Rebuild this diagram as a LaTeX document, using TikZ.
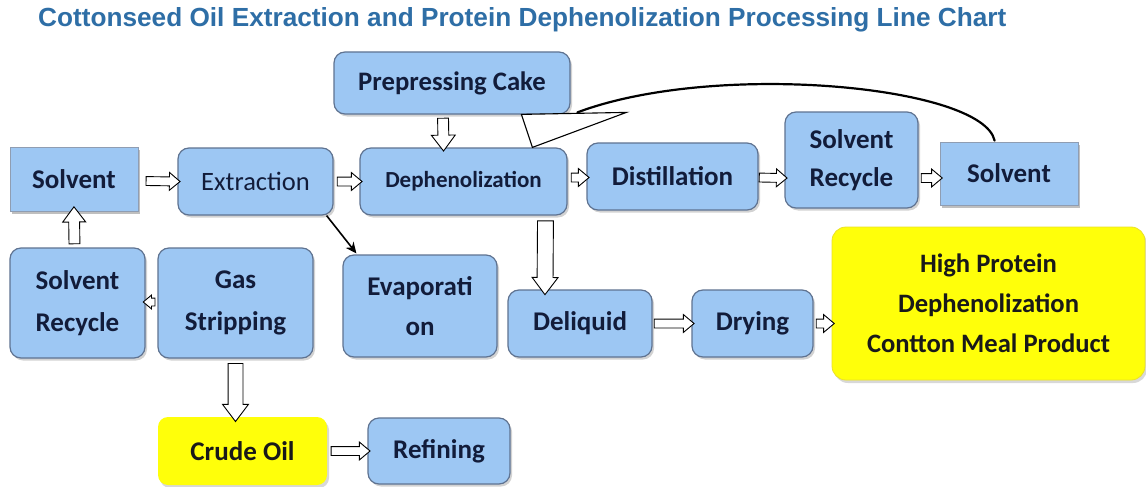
\documentclass[tikz,border=0pt]{standalone}
\usepackage{fontspec}
\setmainfont{Carlito}
\newfontfamily\titlefont{Liberation Sans}
\usetikzlibrary{shapes.arrows,shadows,calc,arrows.meta}
\definecolor{boxblue}{RGB}{157,199,243}
\definecolor{boxedge}{RGB}{95,115,145}
\definecolor{boxtext}{RGB}{18,28,58}
\definecolor{titleblue}{RGB}{46,110,166}
\definecolor{hiyellow}{RGB}{255,255,10}
\definecolor{yedge}{RGB}{235,225,40}
\tikzset{
  base/.style={align=center, inner sep=2pt, text=boxtext,
    font=\fontsize{27}{39}\selectfont\bfseries},
  bbox/.style={base, rounded corners=11pt, fill=boxblue, draw=boxedge, line width=1.2pt,
    drop shadow={shadow xshift=2pt, shadow yshift=-2.5pt, opacity=0.35}},
  sqbox/.style={base, fill=boxblue, draw=boxedge!70, line width=0.8pt,
    drop shadow={shadow xshift=2pt, shadow yshift=-3pt, opacity=0.5}},
  ybox/.style={base, rounded corners=14pt, fill=hiyellow, draw=yedge, line width=0.8pt, text=black!90,
    drop shadow={shadow xshift=2pt, shadow yshift=-3pt, opacity=0.3}},
  sarrow/.style={single arrow, draw=black, fill=white, line width=0.9pt,
    inner xsep=0pt, inner ysep=4pt, single arrow head extend=4.5pt,
    single arrow tip angle=80, single arrow head indent=0pt, shape border uses incircle=false},
  varrow/.style={sarrow, inner ysep=6pt, single arrow head extend=5.5pt, single arrow tip angle=74},
}
\newcommand\barrow[3][]{%
  \path let \p1=(#2), \p2=(#3), \n1={veclen(\x2-\x1,\y2-\y1)}, \n2={atan2(\y2-\y1,\x2-\x1)} in
    node[sarrow,#1, minimum height=\n1, rotate=\n2] at ($(\p1)!0.5!(\p2)$) {};}
\begin{document}
\begin{tikzpicture}[x=1pt,y=-1pt]
\useasboundingbox[fill=white] (0,0) rectangle (1146,487);
\node[anchor=west, text=titleblue, font=\titlefont\fontsize{26.2}{30}\selectfont\bfseries, inner sep=0pt] (title) at (38,20)
  {Cottonseed Oil Extraction and Protein Dephenolization Processing Line Chart};

\node[bbox, minimum width=236pt, minimum height=62pt, font=\fontsize{26.7}{30}\selectfont\bfseries] (pre) at (452,83) {Prepressing Cake};
\node[sqbox, minimum width=128pt, minimum height=64pt] (solL) at (74,179) {Solvent};
\node[bbox, minimum width=155pt, minimum height=67pt, font=\fontsize{26.5}{30}\selectfont] (ext) at (255.5,181.5) {Extraction};
\node[bbox, minimum width=207pt, minimum height=67pt, font=\fontsize{23}{26}\selectfont\bfseries] (deph) at (463.5,181.5) {Dephenolization};
\node[bbox, minimum width=171pt, minimum height=67pt] (dist) at (672.5,176.5) {Distillation};
\node[bbox, minimum width=133pt, minimum height=96pt, font=\fontsize{27}{38}\selectfont\bfseries] (srecT) at (851.5,160)
  {\raisebox{-7pt}{\begin{tabular}{@{}c@{}}Solvent\\Recycle\end{tabular}}};
\node[sqbox, minimum width=138pt, minimum height=63pt] (solR) at (1009,173.5) {Solvent};
\node[bbox, minimum width=135pt, minimum height=110pt, font=\fontsize{27}{42}\selectfont\bfseries] (srecL) at (77.5,303) {Solvent\\Recycle};
\node[bbox, minimum width=155pt, minimum height=110pt, font=\fontsize{27}{42}\selectfont\bfseries] (gas) at (235.5,303) {Gas\\Stripping};
\node[bbox, minimum width=154pt, minimum height=102pt, font=\fontsize{27}{40}\selectfont\bfseries] (evap) at (420,306) {Evaporati\\on};
\node[bbox, minimum width=144pt, minimum height=67pt] (deliq) at (580,323.5) {Deliquid};
\node[bbox, minimum width=121pt, minimum height=67pt] (dry) at (752.5,323.5) {Drying};
\node[ybox, minimum width=313pt, minimum height=153pt, font=\fontsize{26.6}{40}\selectfont\bfseries] (hp) at (988.5,303.5) {High Protein\\Dephenolization\\Contton Meal Product};
\node[ybox, draw=none, minimum width=169pt, minimum height=68pt, rounded corners=10pt, drop shadow={opacity=0}] (crude) at (242.5,451) {Crude Oil};
\node[bbox, minimum width=142pt, minimum height=66pt] (ref) at (439,451) {Refining};

% hollow block arrows
\barrow{$(solL.east)+(5,2)$}{$(ext.west)+(0,0)$}
\barrow{$(ext.east)+(1,0)$}{$(deph.west)+(0,0)$}
\barrow{$(deph.east)+(1,-4)$}{$(dist.west)+(0,1)$}
\barrow{$(dist.east)+(-2,1)$}{$(srecT.west)+(0,18)$}
\barrow{$(srecT.east)+(0,18)$}{$(solR.west)+(0,4.5)$}
\barrow{$(deliq.east)+(-1,0)$}{$(dry.west)+(0,0)$}
\barrow{$(dry.east)+(0,0)$}{$(hp.west)+(0,20)$}
\barrow{$(crude.east)+(1,0)$}{$(ref.west)+(0,0)$}
\barrow[inner ysep=3.5pt, single arrow head extend=3pt]{$(gas.west)+(0,-1)$}{$(srecL.east)+(0,-1)$}
\barrow[varrow, inner ysep=5pt, single arrow head extend=6.5pt]{$(pre.south)+(-9,0)$}{$(deph.north)+(-20,0)$}
\barrow[varrow, inner ysep=7.5pt, single arrow head extend=5pt]{$(deph.south)+(82,0)$}{$(deliq.north)+(-35,0)$}
\barrow[varrow, inner ysep=7pt, single arrow head extend=5.5pt]{$(gas.south)+(0,0)$}{$(crude.north)+(-7,0)$}
\barrow[varrow, inner ysep=5pt, single arrow head extend=6pt]{$(srecL.north)+(-3,0)$}{$(solL.south)+(0,-1)$}

% black arrow Extraction -> Evaporation
\draw[line width=1.6pt, -{Stealth[length=11pt,width=10pt]}] ($(ext.south east)+(-7,0)$) -- ($(evap.north west)+(14,-1)$);

% curved return arrow from right Solvent to Dephenolization
\coordinate (hook) at ($(solR.north west)+(55,-1)$);
\coordinate (tA) at ($(deph.north west)+(162,-33)$);
\coordinate (tB) at ($(deph.north west)+(267,-35)$);
\coordinate (tC) at ($(deph.north west)+(173,0)$);
\draw[line width=2.2pt, line cap=round] (hook) .. controls ($(hook)+(-12,-55)$) and ($(hook)+(-280,-80)$) .. ($(deph.north west)+(218,-35)$);
\draw[line width=1.1pt, fill=white, line join=miter] (tA) -- (tB) -- (tC) -- cycle;
\end{tikzpicture}
\end{document}
